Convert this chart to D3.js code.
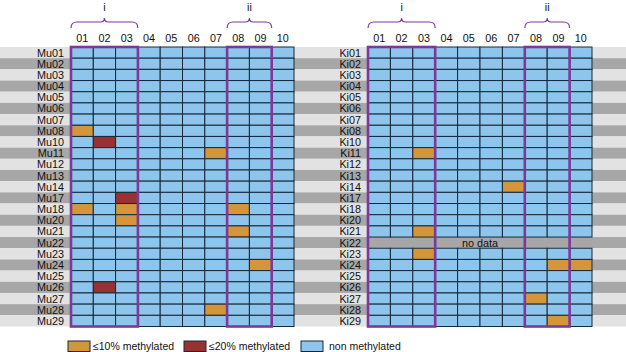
<!DOCTYPE html>
<html><head><meta charset="utf-8">
<script src="https://cdnjs.cloudflare.com/ajax/libs/d3/7.8.5/d3.min.js"></script>
<style>
html,body{margin:0;padding:0;background:#fff;}
svg{display:block;font-family:"Liberation Sans",Arial,Helvetica,sans-serif;}
</style></head>
<body>
<script>
// ---------- data ----------
const regions = ["01","02","03","04","05","06","07","08","09","10"];
const muSamples = ["Mu01","Mu02","Mu03","Mu04","Mu05","Mu06","Mu07","Mu08","Mu10","Mu11","Mu12","Mu13","Mu14","Mu17","Mu18","Mu20","Mu21","Mu22","Mu23","Mu24","Mu25","Mu26","Mu27","Mu28","Mu29"];
const kiSamples = ["Ki01","Ki02","Ki03","Ki04","Ki05","Ki06","Ki07","Ki08","Ki10","Ki11","Ki12","Ki13","Ki14","Ki17","Ki18","Ki20","Ki21","Ki22","Ki23","Ki24","Ki25","Ki26","Ki27","Ki28","Ki29"];
// methylated cells: [sample, region, level] level 1 = ≤10%, 2 = ≤20%
const muMethylated = [
  ["Mu08","01",1],["Mu10","02",2],["Mu11","07",1],["Mu17","03",2],
  ["Mu18","01",1],["Mu18","03",1],["Mu18","08",1],["Mu20","03",1],
  ["Mu21","08",1],["Mu24","09",1],["Mu26","02",2],["Mu28","07",1]
];
const kiMethylated = [
  ["Ki11","03",1],["Ki14","07",1],["Ki21","03",1],["Ki23","03",1],
  ["Ki24","09",1],["Ki24","10",1],["Ki27","08",1],["Ki29","09",1]
];
const kiNoData = ["Ki22"];
const groups = [{label:"i", from:"01", to:"03"},{label:"ii", from:"08", to:"09"}];
const legendLabels = ["\u226410% methylated","\u226420% methylated","non methylated"];

// ---------- style ----------
const W = 626, H = 352;
const colors = {0:"#8ec5ec",1:"#d4953b",2:"#983232"};
const stripeLight = "#e2e2e2", stripeDark = "#a7a7a7";
const purple = "#7b3a97";
const fs = 10.8;

const svg = d3.select("body").append("svg").attr("width",W).attr("height",H);

const gridTop = 47, gridBottom = 326.5;

function panel(samples, methylated, noData, x0, x1, stripeX0, stripeX1){
  const x = d3.scaleBand().domain(regions).range([x0,x1]);
  const y = d3.scaleBand().domain(samples).range([gridTop,gridBottom]);
  const g = svg.append("g");
  g.selectAll("rect.stripe").data(samples).join("rect")
    .attr("x",stripeX0).attr("width",stripeX1-stripeX0)
    .attr("y",d=>y(d)).attr("height",y.bandwidth())
    .attr("fill",(d,i)=> i%2===0 ? stripeLight : stripeDark);
  const lookup = new Map(methylated.map(m=>[m[0]+"|"+m[1], m[2]]));
  const cells = [];
  samples.forEach(s=>{ if(noData.includes(s)) return; regions.forEach(r=>cells.push({s,r,v:lookup.get(s+"|"+r)||0})); });
  g.selectAll("rect.cell").data(cells).join("rect")
    .attr("x",d=>x(d.r)).attr("y",d=>y(d.s))
    .attr("width",x.bandwidth()).attr("height",y.bandwidth())
    .attr("fill",d=>colors[d.v]).attr("stroke","#17283a").attr("stroke-width",1);
  noData.forEach(s=>{
    g.append("text").attr("x",(x0+x1)/2).attr("y",y(s)+y.bandwidth()/2+4)
      .attr("text-anchor","middle").attr("font-size",fs).attr("fill","#111").text("no data");
  });
  g.selectAll("text.row").data(samples).join("text")
    .attr("x",x0-7).attr("y",d=>y(d)+y.bandwidth()/2+4)
    .attr("text-anchor","end").attr("font-size",fs).attr("fill","#111").text(d=>d);
  g.selectAll("text.col").data(regions).join("text")
    .attr("x",d=>x(d)+x.bandwidth()/2).attr("y",42)
    .attr("text-anchor","middle").attr("font-size",fs).attr("fill","#111").text(d=>d);
  groups.forEach(gr=>{
    const a = x(gr.from), b = x(gr.to)+x.bandwidth();
    g.append("rect").attr("x",a).attr("y",gridTop).attr("width",b-a).attr("height",gridBottom-gridTop)
      .attr("fill","none").attr("stroke",purple).attr("stroke-width",2.6);
    const m = (a+b)/2, yb = 22, r = 4;
    const p = `M${a},${yb+6} Q${a},${yb} ${a+r+2},${yb} L${m-4},${yb} Q${m},${yb} ${m},${yb-4} Q${m},${yb} ${m+4},${yb} L${b-r-2},${yb} Q${b},${yb} ${b},${yb+6}`;
    g.append("path").attr("d",p).attr("fill","none").attr("stroke",purple).attr("stroke-width",1.2);
    g.append("text").attr("x",m).attr("y",11).attr("text-anchor","middle")
      .attr("font-size",fs).attr("fill","#111").text(gr.label);
  });
}

panel(muSamples, muMethylated, [], 71, 294, 0, 318);
panel(kiSamples, kiMethylated, kiNoData, 368, 592, 318, W);

const legX = [68, 184, 301];
const lg = svg.append("g");
legendLabels.forEach((t,i)=>{
  lg.append("rect").attr("x",legX[i]).attr("y",341).attr("width",22).attr("height",10.5)
    .attr("fill",colors[i===2?0:i+1]).attr("stroke","#17283a").attr("stroke-width",1);
  lg.append("text").attr("x",legX[i]+(i===2?28:25)).attr("y",350).attr("font-size",10.5)
    .attr("fill","#111").text(t);
});
</script>
</body></html>
